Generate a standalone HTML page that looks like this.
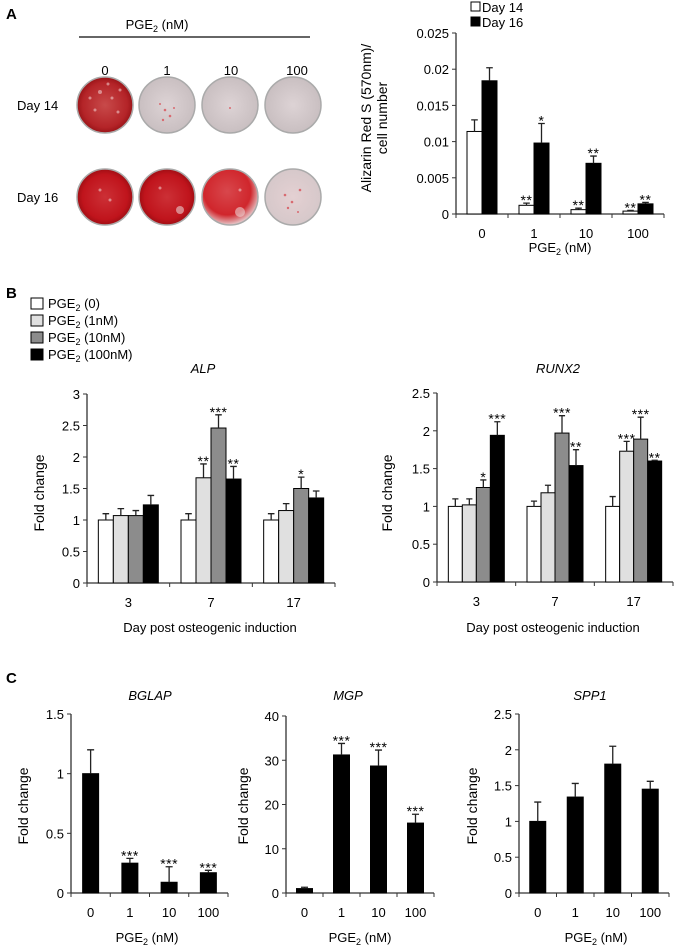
<!DOCTYPE html>
<html><head><meta charset="utf-8">
<style>
html,body{margin:0;padding:0;background:#fff;}
svg{display:block;font-family:"Liberation Sans",Arial,sans-serif;}
</style></head>
<body>
<svg id="fig" width="675" height="947" viewBox="0 0 675 947" xmlns="http://www.w3.org/2000/svg">
<defs>
<radialGradient id="redDense" cx="50%" cy="50%" r="50%"><stop offset="0" stop-color="#c84a4a"/><stop offset="0.8" stop-color="#b42428"/><stop offset="1" stop-color="#9a1418"/></radialGradient>
<radialGradient id="redDark" cx="50%" cy="50%" r="50%"><stop offset="0" stop-color="#cc3036"/><stop offset="0.8" stop-color="#c0141c"/><stop offset="1" stop-color="#a00e14"/></radialGradient>
<radialGradient id="redMid" cx="45%" cy="40%" r="60%"><stop offset="0" stop-color="#d8474c"/><stop offset="0.7" stop-color="#d0262c"/><stop offset="1" stop-color="#e6c8ca"/></radialGradient>
<radialGradient id="grayDish" cx="50%" cy="50%" r="50%"><stop offset="0" stop-color="#ddd3d5"/><stop offset="1" stop-color="#c9bfc1"/></radialGradient>
<radialGradient id="lightDish" cx="50%" cy="50%" r="50%"><stop offset="0" stop-color="#e4d0d2"/><stop offset="1" stop-color="#d6c8ca"/></radialGradient>
</defs>

<text x="6" y="19" font-size="15" font-weight="bold">A</text>
<text x="157" y="29" font-size="13" text-anchor="middle">PGE<tspan font-size="9" dy="3">2</tspan><tspan dy="-3"> (nM)</tspan></text>
<line x1="79" y1="37" x2="310" y2="37" stroke="#333" stroke-width="1.5"/>
<g font-size="13" text-anchor="middle">
<text x="105" y="75">0</text><text x="167" y="75">1</text><text x="231" y="75">10</text><text x="297" y="75">100</text>
</g>
<text x="17" y="110" font-size="13">Day 14</text>
<text x="17" y="202" font-size="13">Day 16</text>
<g stroke="#aaa" stroke-width="1.5">
<circle cx="105" cy="105" r="28" fill="url(#redDense)"/>
<circle cx="167" cy="105" r="28" fill="url(#grayDish)"/>
<circle cx="230" cy="105" r="28" fill="url(#grayDish)"/>
<circle cx="293" cy="105" r="28" fill="url(#grayDish)"/>
<circle cx="105" cy="197" r="28" fill="url(#redDark)"/>
<circle cx="167" cy="197" r="28" fill="url(#redDark)"/>
<circle cx="230" cy="197" r="28" fill="url(#redMid)"/>
<circle cx="293" cy="197" r="28" fill="url(#lightDish)"/>
</g>
<g fill="#eec8c8" opacity="0.6">
<circle cx="100" cy="92" r="2"/><circle cx="112" cy="98" r="1.5"/><circle cx="95" cy="110" r="1.5"/><circle cx="118" cy="112" r="1.5"/><circle cx="108" cy="84" r="1.5"/><circle cx="90" cy="98" r="1.5"/><circle cx="120" cy="90" r="1.5"/>
<circle cx="100" cy="190" r="1.5"/><circle cx="110" cy="200" r="1.5"/><circle cx="160" cy="188" r="1.5"/><circle cx="180" cy="210" r="4" fill="#e8d0d0"/><circle cx="240" cy="212" r="5" fill="#ecd4d4"/><circle cx="240" cy="190" r="1.5"/>
</g>
<g fill="#d86a70">
<circle cx="165" cy="110" r="1.3"/><circle cx="170" cy="116" r="1.3"/><circle cx="160" cy="104" r="1"/><circle cx="174" cy="108" r="1"/><circle cx="163" cy="120" r="1.2"/>
<circle cx="230" cy="108" r="1"/><circle cx="285" cy="195" r="1.3"/><circle cx="292" cy="202" r="1.3"/><circle cx="300" cy="190" r="1.3"/><circle cx="288" cy="208" r="1.2"/><circle cx="298" cy="212" r="1"/>
</g>

<text x="6" y="298" font-size="15" font-weight="bold">B</text>
<text x="6" y="683" font-size="15" font-weight="bold">C</text>

<g font-size="13">
<rect x="31" y="298" width="12" height="11" fill="#fff" stroke="#000"/>
<text x="48" y="308">PGE<tspan font-size="9" dy="3">2</tspan><tspan dy="-3"> (0)</tspan></text>
<rect x="31" y="315" width="12" height="11" fill="#e0e0e0" stroke="#000"/>
<text x="48" y="325">PGE<tspan font-size="9" dy="3">2</tspan><tspan dy="-3"> (1nM)</tspan></text>
<rect x="31" y="332" width="12" height="11" fill="#8c8c8c" stroke="#000"/>
<text x="48" y="342">PGE<tspan font-size="9" dy="3">2</tspan><tspan dy="-3"> (10nM)</tspan></text>
<rect x="31" y="349" width="12" height="11" fill="#000" stroke="#000"/>
<text x="48" y="359">PGE<tspan font-size="9" dy="3">2</tspan><tspan dy="-3"> (100nM)</tspan></text>
</g>

<g font-size="13">
<rect x="471" y="2" width="9" height="9" fill="#fff" stroke="#000"/>
<text x="482" y="12">Day 14</text>
<rect x="471" y="17" width="9" height="9" fill="#000" stroke="#000"/>
<text x="482" y="27">Day 16</text>
</g>
<g id="charts"></g>
</svg>
<script>
// ---- Panel A: Alizarin Red ----
const aCategories = ["0", "1", "10", "100"];
const aDay14 = [0.0114, 0.0012, 0.0006, 0.0004];
const aDay14Err = [0.0016, 0.0003, 0.0002, 0.0001];
const aDay16 = [0.0184, 0.0098, 0.0070, 0.0014];
const aDay16Err = [0.0018, 0.0027, 0.0010, 0.0002];
const aStars14 = ["", "**", "**", "**"];
const aStars16 = ["", "*", "**", "**"];
const aTicks = ["0", "0.005", "0.01", "0.015", "0.02", "0.025"];

// ---- Panel B ----
const bCategories = ["3", "7", "17"];
const alp0 = [1, 1, 1];
const alp1 = [1.07, 1.67, 1.15];
const alp10 = [1.07, 2.46, 1.50];
const alp100 = [1.24, 1.65, 1.35];
const alpErr0 = [0.10, 0.10, 0.10];
const alpErr1 = [0.11, 0.22, 0.11];
const alpErr10 = [0.08, 0.21, 0.18];
const alpErr100 = [0.15, 0.20, 0.11];
const alpStars1 = ["", "**", ""];
const alpStars10 = ["", "***", "*"];
const alpStars100 = ["", "**", ""];
const alpTicks = ["0", "0.5", "1", "1.5", "2", "2.5", "3"];

const runx0 = [1, 1, 1];
const runx1 = [1.02, 1.18, 1.73];
const runx10 = [1.25, 1.97, 1.89];
const runx100 = [1.94, 1.54, 1.60];
const runxErr0 = [0.10, 0.07, 0.13];
const runxErr1 = [0.08, 0.10, 0.13];
const runxErr10 = [0.10, 0.23, 0.29];
const runxErr100 = [0.18, 0.21, 0.01];
const runxStars1 = ["", "", "***"];
const runxStars10 = ["*", "***", "***"];
const runxStars100 = ["***", "**", "**"];
const runxTicks = ["0", "0.5", "1", "1.5", "2", "2.5"];

// ---- Panel C ----
const cCategories = ["0", "1", "10", "100"];
const bglap = [1, 0.25, 0.09, 0.17];
const bglapErr = [0.20, 0.04, 0.13, 0.02];
const bglapStars = ["", "***", "***", "***"];
const bglapTicks = ["0", "0.5", "1", "1.5"];
const mgp = [1, 31.2, 28.7, 15.8];
const mgpErr = [0.3, 2.6, 3.6, 2.0];
const mgpStars = ["", "***", "***", "***"];
const mgpTicks = ["0", "10", "20", "30", "40"];
const spp1 = [1, 1.34, 1.80, 1.45];
const spp1Err = [0.27, 0.19, 0.25, 0.11];
const spp1Stars = ["", "", "", ""];
const spp1Ticks = ["0", "0.5", "1", "1.5", "2", "2.5"];

const NS = "http://www.w3.org/2000/svg";
const root = document.getElementById("charts");
function el(tag, attrs, parent) {
  const e = document.createElementNS(NS, tag);
  for (const k in attrs) e.setAttribute(k, attrs[k]);
  (parent || root).appendChild(e);
  return e;
}

function drawChart(c) {
  const g = el("g", {});
  
  
  const maxV = parseFloat(c.ticks[c.ticks.length - 1]);
  const ys = v => c.y0 - (v / maxV) * (c.y0 - c.yTop);
  const nCat = c.categories.length;
  const catW = (c.x1 - c.x0) / nCat;
  const xc = i => c.x0 + catW * (i + 0.5);
  const ya = el("line", {x1: c.x0, y1: c.yTop, x2: c.x0, y2: c.y0, stroke: "#333", "stroke-width": 1.3}, g);
  
  
  const xa = el("line", {x1: c.x0, y1: c.y0, x2: c.x1, y2: c.y0, stroke: "#333", "stroke-width": 1.3}, g);
  
  
  c.ticks.forEach((t) => {
    const y = ys(parseFloat(t));
    const tk = el("line", {x1: c.x0 - 4, y1: y, x2: c.x0, y2: y, stroke: "#333"}, g);
    
    
    const tl = el("text", {x: c.x0 - 7, y: y + 5, "font-size": 13, "text-anchor": "end"}, g);
    tl.textContent = t;
    
    
  });
  for (let i = 0; i <= nCat; i++) {
    const x = c.x0 + catW * i;
    const tk = el("line", {x1: x, y1: c.y0, x2: x, y2: c.y0 + 4, stroke: "#333"}, g);
    
    
  }
  c.categories.forEach((cat, i) => {
    const tl = el("text", {x: xc(i), y: c.y0 + 24, "font-size": 13, "text-anchor": "middle"}, g);
    tl.textContent = cat;
    
    
  });
  const ns = c.series.length;
  c.categories.forEach((cat, i) => {
    const start = xc(i) - (ns * c.bw) / 2;
    c.series.forEach((s, j) => {
      const v = s.values[i];
      const bx = start + j * c.bw;
      const top = ys(v);
      const r = el("rect", {x: bx, y: top, width: c.bw, height: c.y0 - top, fill: s.color, stroke: "#000", "stroke-width": 1}, g);
      
      
      const et = ys(v + s.err[i]);
      const cx = bx + c.bw / 2;
      const hw = c.bw * 0.22;
      const eb = el("path", {d: "M" + cx + " " + top + "V" + et + "M" + (cx - hw) + " " + et + "H" + (cx + hw), stroke: "#222", "stroke-width": 1.3, fill: "none"}, g);
      
      
      if (s.stars && s.stars[i]) {
        const st = el("text", {x: cx, y: et + 2, "font-size": 14, "text-anchor": "middle", "letter-spacing": "0.5"}, g);
        st.textContent = s.stars[i];
        
        
      }
    });
  });
  const yt = el("text", {x: 0, y: 0, "font-size": c.ylfs || 13, "text-anchor": "middle", transform: "translate(" + c.ylx + "," + c.yly + ") rotate(-90)"}, g);
  if (c.ylabel2) {
    const t1 = el("tspan", {x: 0, dy: 0}, yt); t1.textContent = c.ylabel;
    const t2 = el("tspan", {x: 0, dy: 16}, yt); t2.textContent = c.ylabel2;
  } else yt.textContent = c.ylabel;
  
  
  if (c.title) {
    const tt = el("text", {x: c.tx, y: c.ty, "font-size": 13, "font-style": "italic", "text-anchor": "middle"}, g);
    tt.textContent = c.title;
    
    
  }
  const xt = el("text", {x: c.xtx, y: c.xty, "font-size": 13, "text-anchor": "middle"}, g);
  if (c.pge) {
    xt.appendChild(document.createTextNode("PGE"));
    const sub = el("tspan", {"font-size": 9, dy: 3}, xt); sub.textContent = "2";
    const rest = el("tspan", {dy: -3}, xt); rest.textContent = " (nM)";
  } else xt.textContent = c.xlabel;
  
  
}

drawChart({name: "alizarin-chart", x0: 456, x1: 664, y0: 214, yTop: 33, bw: 15, ticks: aTicks, categories: aCategories,
  series: [{key: "day14", values: aDay14, err: aDay14Err, stars: aStars14, color: "#fff"},
           {key: "day16", values: aDay16, err: aDay16Err, stars: aStars16, color: "#000"}],
  ylabel: "Alizarin Red S (570nm)/", ylabel2: "cell number", ylfs: 14, ylx: 371, yly: 118, pge: true, xtx: 560, xty: 252});

drawChart({name: "alp-chart", x0: 87, x1: 335, y0: 583, yTop: 394, bw: 15, ticks: alpTicks, categories: bCategories,
  series: [{key: "0", values: alp0, err: alpErr0, color: "#fff"},
           {key: "1nM", values: alp1, err: alpErr1, stars: alpStars1, color: "#e0e0e0"},
           {key: "10nM", values: alp10, err: alpErr10, stars: alpStars10, color: "#8c8c8c"},
           {key: "100nM", values: alp100, err: alpErr100, stars: alpStars100, color: "#000"}],
  ylabel: "Fold change", ylfs: 14, ylx: 44, yly: 493, title: "ALP", tx: 203, ty: 373, xlabel: "Day post osteogenic induction", xtx: 210, xty: 632});

drawChart({name: "runx2-chart", x0: 437, x1: 673, y0: 582, yTop: 393, bw: 14, ticks: runxTicks, categories: bCategories,
  series: [{key: "0", values: runx0, err: runxErr0, color: "#fff"},
           {key: "1nM", values: runx1, err: runxErr1, stars: runxStars1, color: "#e0e0e0"},
           {key: "10nM", values: runx10, err: runxErr10, stars: runxStars10, color: "#8c8c8c"},
           {key: "100nM", values: runx100, err: runxErr100, stars: runxStars100, color: "#000"}],
  ylabel: "Fold change", ylfs: 14, ylx: 392, yly: 493, title: "RUNX2", tx: 558, ty: 373, xlabel: "Day post osteogenic induction", xtx: 553, xty: 632});

drawChart({name: "bglap-chart", x0: 71, x1: 228, y0: 893, yTop: 714, bw: 16, ticks: bglapTicks, categories: cCategories,
  series: [{key: "bglap", values: bglap, err: bglapErr, stars: bglapStars, color: "#000"}],
  ylabel: "Fold change", ylfs: 14, ylx: 28, yly: 806, title: "BGLAP", tx: 150, ty: 700, pge: true, xtx: 147, xty: 942});

drawChart({name: "mgp-chart", x0: 286, x1: 434, y0: 893, yTop: 716, bw: 16, ticks: mgpTicks, categories: cCategories,
  series: [{key: "mgp", values: mgp, err: mgpErr, stars: mgpStars, color: "#000"}],
  ylabel: "Fold change", ylfs: 14, ylx: 248, yly: 806, title: "MGP", tx: 348, ty: 700, pge: true, xtx: 360, xty: 942});

drawChart({name: "spp1-chart", x0: 519, x1: 669, y0: 893, yTop: 714, bw: 16, ticks: spp1Ticks, categories: cCategories,
  series: [{key: "spp1", values: spp1, err: spp1Err, stars: spp1Stars, color: "#000"}],
  ylabel: "Fold change", ylfs: 14, ylx: 477, yly: 806, title: "SPP1", tx: 590, ty: 700, pge: true, xtx: 596, xty: 942});
</script>
</body></html>
